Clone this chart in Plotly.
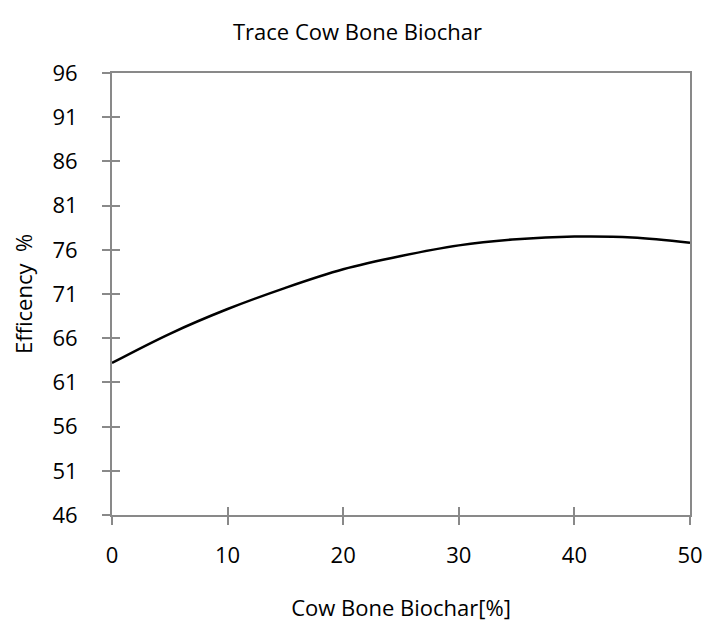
import plotly.graph_objects as go

# values
biochar_pct = [0, 5, 10, 15, 20, 25, 30, 35, 40, 45, 50]
efficiency = [63.2, 66.5, 69.3, 71.7, 73.8, 75.3, 76.5, 77.2, 77.5, 77.4, 76.8]

x_ticks = [0, 10, 20, 30, 40, 50]
y_ticks = [46, 51, 56, 61, 66, 71, 76, 81, 86, 91, 96]

AXIS_COLOR = "#898989"
FONT = "Open Sans"
FSIZE = 22

fig = go.Figure()

fig.add_trace(go.Scatter(
    x=biochar_pct, y=efficiency,
    mode="lines",
    line=dict(color="black", width=2.5, shape="spline"),
    showlegend=False,
    hoverinfo="x+y",
))

# invisible trace so the inside-tick overlay axes get drawn
fig.add_trace(go.Scatter(
    x=[x_ticks[0]], y=[y_ticks[0]], xaxis="x2", yaxis="y2",
    mode="markers", marker=dict(opacity=0), showlegend=False, hoverinfo="skip",
))

axis_common = dict(
    showgrid=False, zeroline=False,
    showline=True, linecolor=AXIS_COLOR, linewidth=2,
    tickcolor=AXIS_COLOR, tickwidth=2, ticklen=8,
    tickfont=dict(family=FONT, size=FSIZE, color="black"),
)

fig.update_layout(
    title=dict(
        text="Trace Cow Bone Biochar",
        x=0.5, xanchor="center", y=0.948, yanchor="middle",
        font=dict(family=FONT, size=FSIZE, color="black"),
    ),
    xaxis=dict(
        **axis_common,
        range=[0, 50], tickvals=x_ticks, ticks="outside",
        mirror=True, ticklabelstandoff=12,
        title=dict(text="Cow Bone Biochar[%]", standoff=32,
                   font=dict(family=FONT, size=FSIZE, color="black")),
    ),
    yaxis=dict(
        **axis_common,
        range=[46, 96], tickvals=y_ticks, ticks="outside",
        mirror=True, ticklabelstandoff=20,
        title=dict(text="Efficency  %", standoff=14,
                   font=dict(family=FONT, size=FSIZE, color="black")),
    ),
    xaxis2=dict(
        range=[0, 50], tickvals=x_ticks, ticks="inside", ticklen=8,
        tickcolor=AXIS_COLOR, tickwidth=2, showticklabels=False,
        showgrid=False, zeroline=False, showline=False,
        overlaying="x", side="bottom", anchor="y2",
    ),
    yaxis2=dict(
        range=[46, 96], tickvals=y_ticks, ticks="inside", ticklen=8,
        tickcolor=AXIS_COLOR, tickwidth=2, showticklabels=False,
        showgrid=False, zeroline=False, showline=False,
        overlaying="y", side="left", anchor="x2",
    ),
    plot_bgcolor="white",
    paper_bgcolor="white",
    margin=dict(l=112, r=17, t=73, b=109),
    width=715,
    height=629,
)

fig.write_html("out.html", config={"displayModeBar": False})

# drop the browser's default body margin so the figure fills the window exactly
with open("out.html", encoding="utf-8") as f:
    html = f.read()
html = html.replace("<body>", '<body style="margin:0;overflow:hidden">', 1)
with open("out.html", "w", encoding="utf-8") as f:
    f.write(html)
